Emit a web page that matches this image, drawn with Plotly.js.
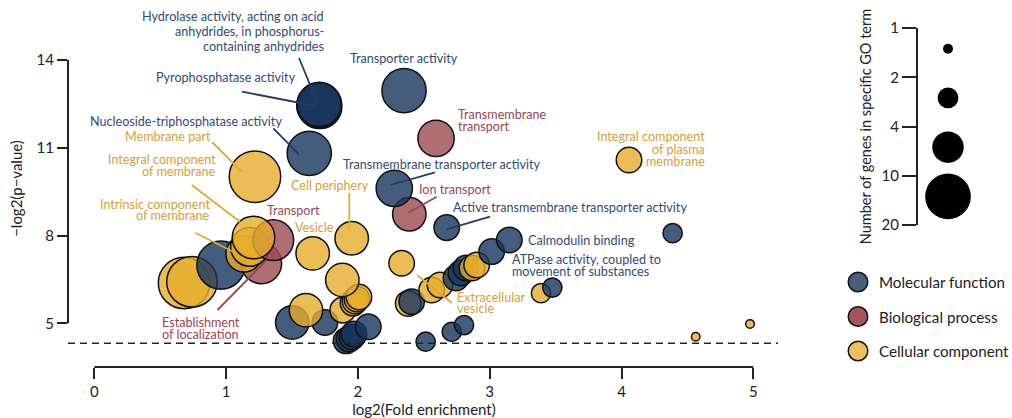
<!DOCTYPE html>
<html><head><meta charset="utf-8">
<script src="https://cdn.plot.ly/plotly-3.0.1.min.js"></script>
<style>html,body{margin:0;padding:0;background:#fff}#chart{width:1012px;height:418px}</style>
</head><body><div id="chart"></div>
<script>
// ---------------- DATA ----------------
// Molecular function
const mfX = [1.707,1.711,1.703,1.631,2.350,2.276,2.674,3.149,3.015,2.820,2.782,2.744,2.408,2.712,2.805,2.514,3.475,4.388,0.961,1.502,1.750,2.079,1.910,1.932,1.955,1.970];
const mfY = [12.48,12.41,12.44,10.81,12.95,9.61,8.27,7.85,7.45,6.89,6.72,6.55,5.74,4.71,4.94,4.37,6.22,8.08,6.99,5.03,5.03,4.88,4.40,4.46,4.53,4.63];
const mfGenes = [10,10,10,10,10,6,3,3,3,3,3,3,3,2,2,2,2,2,13,5,3,3,3,3,3,3];
// Biological process
const bpX = [2.593,2.390,1.358,1.267];
const bpY = [11.32,8.725,7.84,7.05];
const bpGenes = [6,5,8,8];
// Cellular component
const ccX = [1.219,4.057,1.208,1.136,1.181,0.681,0.741,1.953,1.657,1.882,2.008,1.993,1.978,1.963,1.885,1.606,2.332,2.901,2.866,2.623,2.560,2.382,3.389,4.563,4.975];
const ccY = [10.01,10.58,7.93,7.37,7.61,6.38,6.42,7.905,7.39,6.48,5.90,5.83,5.76,5.69,5.45,5.45,7.05,6.99,6.89,6.31,6.14,5.68,6.03,4.54,4.98];
const ccGenes = [16,3,9,6,7,16,15,5,5,5,3,3,3,3,3,5,3,3,3,3,3,3,2,1,1];

const categories = ['Molecular function','Biological process','Cellular component'];
const xTicks = [0,1,2,3,4,5];
const yTicks = [5,8,11,14];
const sizeLegendGenes = [1,2,4,10];
const sizeLegendTicks = ['1','2','4','10','20'];
const pThreshold = 0.05;

// ---------------- STYLE ----------------
const FONT = 'Lato, "Open Sans", sans-serif';
const FILL = {'Molecular function':'rgba(22,52,92,0.8)','Biological process':'rgba(155,74,80,0.8)','Cellular component':'rgba(230,174,42,0.8)'};
const SOLID = {'Molecular function':'#475f7e','Biological process':'#a5555f','Cellular component':'#ebc05a'};
const TXT = {b:'#2f4c73', r:'#9c4654', y:'#d6a03a'};
const LINE = {b:'#1f3d63', r:'#9c4654', y:'#e0aa30'};
const sizeOf = n => 8.5 + 15.5*Math.log(n);

// layout geometry
const M = {l:68, r:10, t:10, b:51};
const PW = 712, PH = 418 - M.t - M.b, FW = 1012 - M.l - M.r;
const XR = [-0.1995, 5.2026], YR = [3.5065, 15.7075];
const px2x = px => XR[0] + (px - M.l)/PW*(XR[1]-XR[0]);
const py2y = py => YR[1] - (py - M.t)/PH*(YR[1]-YR[0]);
const ppx = px => (px - M.l)/FW;           // pixel -> paper x
const ppy = py => 1 - (py - M.t)/PH;       // pixel -> paper y

// combine & sort (higher -log2 p drawn on top)
let pts = [];
mfX.forEach((x,i)=>pts.push({x, y:mfY[i], g:mfGenes[i], c:categories[0]}));
bpX.forEach((x,i)=>pts.push({x, y:bpY[i], g:bpGenes[i], c:categories[1]}));
ccX.forEach((x,i)=>pts.push({x, y:ccY[i], g:ccGenes[i], c:categories[2]}));
pts.sort((a,b)=>a.y-b.y);

const main = {
  type:'scatter', mode:'markers', xaxis:'x', yaxis:'y', cliponaxis:false, hoverinfo:'skip',
  x: pts.map(p=>p.x), y: pts.map(p=>p.y),
  marker:{size: pts.map(p=>sizeOf(p.g)), sizemode:'diameter', color: pts.map(p=>FILL[p.c]), opacity:1,
          line:{color:'#111', width:1.5}}
};
const sizeLeg = {
  type:'scatter', mode:'markers', xaxis:'x2', yaxis:'y2', cliponaxis:false, hoverinfo:'skip',
  x: sizeLegendGenes.map(()=>0), y: sizeLegendGenes.map((g,i)=>i+0.42),
  marker:{size: sizeLegendGenes.map(g=>sizeOf(g)+1.5), color:'#000', opacity:1, line:{width:0}}
};
const colorLeg = {
  type:'scatter', mode:'markers', xaxis:'x3', yaxis:'y3', cliponaxis:false, hoverinfo:'skip',
  x: categories.map(()=>0), y: categories,
  marker:{size:19.5, color: categories.map(c=>SOLID[c]), opacity:1, line:{color:'#111', width:1.5}}
};

// labels
const labels = [
 {t:['Hydrolase activity, acting on acid','anhydrides, in phosphorus-','containing anhydrides'], c:'b', a:'right', px:325, py:[16.7,31.7,46.2]},
 {t:['Pyrophosphatase activity'], c:'b', a:'right', px:296.7, py:[77.7]},
 {t:['Nucleoside-triphosphatase activity'], c:'b', a:'right', px:282.7, py:[121.7]},
 {t:['Transporter activity'], c:'b', a:'center', px:404, py:[58.3]},
 {t:['Membrane part'], c:'y', a:'right', px:212, py:[136.7]},
 {t:['Integral component','of membrane'], c:'y', a:'right', px:217.3, py:[159.7,171.7]},
 {t:['Intrinsic component','of membrane'], c:'y', a:'right', px:210.7, py:[204.3,215.7]},
 {t:['Cell periphery'], c:'y', a:'left', px:290, py:[185]},
 {t:['Transport'], c:'r', a:'center', px:293, py:[210]},
 {t:['Vesicle'], c:'y', a:'center', px:314.7, py:[227.3]},
 {t:['Establishment','of localization'], c:'r', a:'center', px:200.5, py:[322.3,334]},
 {t:['Transmembrane','transport'], c:'r', a:'left', px:457.3, py:[114,126]},
 {t:['Integral component','of plasma','membrane'], c:'y', a:'right', px:706, py:[136.7,149.3,161]},
 {t:['Transmembrane transporter activity'], c:'b', a:'left', px:341.7, py:[164]},
 {t:['Ion transport'], c:'r', a:'left', px:418.3, py:[189]},
 {t:['Active transmembrane transporter activity'], c:'b', a:'left', px:452.3, py:[207.3]},
 {t:['Calmodulin binding'], c:'b', a:'left', px:526.7, py:[240]},
 {t:['ATPase activity, coupled to','movement of substances'], c:'b', a:'left', px:511, py:[259,271]},
 {t:['Extracellular','vesicle'], c:'y', a:'left', px:456, py:[297.3,308.3]}
];
const connectors = [
 {c:'b', p:[299,58,318,104]},
 {c:'b', p:[242,91.7,316,106]},
 {c:'b', p:[273.3,128.3,299,154.3]},
 {c:'y', p:[212,142,242,172]},
 {c:'y', p:[191.7,185,240,221.7]},
 {c:'y', p:[195,232.7,233.3,251.7]},
 {c:'y', p:[349.3,193,349.3,229.3]},
 {c:'r', p:[217.5,310,266.7,260]},
 {c:'b', p:[435,172.3,390.7,185]},
 {c:'r', p:[436.7,196.7,408.3,212.7]},
 {c:'b', p:[490,216.7,446.7,229.3]},
 {c:'y', p:[417,275,452,303]}
];

const annotations = [];
labels.forEach(L=>{
  L.t.forEach((line,i)=>{
    annotations.push({xref:'x', yref:'y', x:px2x(L.px), y:py2y(L.py[i]), text:line, showarrow:false,
      xanchor:L.a, yanchor:'middle', align:L.a, font:{family:FONT, size:12.6, color:TXT[L.c]}, borderpad:0});
  });
});
categories.forEach((c,i)=>{
  annotations.push({xref:'x3', yref:'y3', x:19, y:i, text:c, showarrow:false, xanchor:'left', yanchor:'middle',
    font:{family:FONT, size:15.2, color:'#222'}});
});

const shapes = [
  // axis lines (R-style detached)
  {type:'line', xref:'x', yref:'paper', x0:xTicks[0], x1:xTicks[xTicks.length-1], y0:0, y1:0, line:{color:'#222', width:2}},
  {type:'line', xref:'paper', yref:'y', x0:0, x1:0, y0:yTicks[0], y1:yTicks[yTicks.length-1], line:{color:'#222', width:2}},
  // significance threshold
  {type:'line', xref:'x', yref:'y', x0:XR[0], x1:px2x(778), y0:-Math.log2(pThreshold), y1:-Math.log2(pThreshold),
   line:{color:'#222', width:1.5, dash:'7px,5px'}}
];
connectors.forEach(k=>{
  shapes.push({type:'line', xref:'x', yref:'y', x0:px2x(k.p[0]), y0:py2y(k.p[1]), x1:px2x(k.p[2]), y1:py2y(k.p[3]),
    line:{color:LINE[k.c], width:1.8}});
});

const layout = {
  width:1012, height:418, margin:M, paper_bgcolor:'#fff', plot_bgcolor:'rgba(0,0,0,0)', showlegend:false,
  font:{family:FONT, color:'#222'},
  xaxis:{domain:[0, PW/FW], range:XR, tickvals:xTicks, ticks:'outside', ticklen:11, tickwidth:2, tickcolor:'#222',
    showline:false, showgrid:false, zeroline:false, tickfont:{size:15, family:FONT, color:'#222'},
    title:{text:'log2(Fold enrichment)', font:{size:15, family:FONT, color:'#222'}, standoff:4}, anchor:'y'},
  yaxis:{domain:[0,1], range:YR, tickvals:yTicks, ticks:'outside', ticklen:10, tickwidth:2, tickcolor:'#222',
    showline:false, showgrid:false, zeroline:false, tickfont:{size:15, family:FONT, color:'#222'},
    title:{text:'\u2212log2(p\u2212value)', font:{size:15, family:FONT, color:'#222'}, standoff:10}, anchor:'x'},
  xaxis2:{domain:[ppx(918), ppx(978)], range:[-1,1], visible:false, anchor:'y2'},
  yaxis2:{domain:[ppy(225), ppy(28)], range:[sizeLegendTicks.length-1, 0], anchor:'x2',
    tickvals:sizeLegendTicks.map((t,i)=>i), ticktext:sizeLegendTicks, ticks:'outside', ticklen:14, tickwidth:2, tickcolor:'#222',
    showline:true, linewidth:2, linecolor:'#222', showgrid:false, zeroline:false, tickfont:{size:15, family:FONT, color:'#222'},
    title:{text:'Number of genes in specific GO term', font:{size:14.5, family:FONT, color:'#222'}, standoff:7}},
  xaxis3:{domain:[ppx(848), 1], range:[-10,144], visible:false, anchor:'y3'},
  yaxis3:{domain:[ppy(364.8), ppy(264.75)], type:'category', categoryarray:categories, categoryorder:'array',
    range:[2.4,-0.5], visible:false, anchor:'x3'},
  annotations, shapes
};
Plotly.newPlot('chart', [main, sizeLeg, colorLeg], layout, {displayModeBar:false, staticPlot:true});
</script>
</body></html>
